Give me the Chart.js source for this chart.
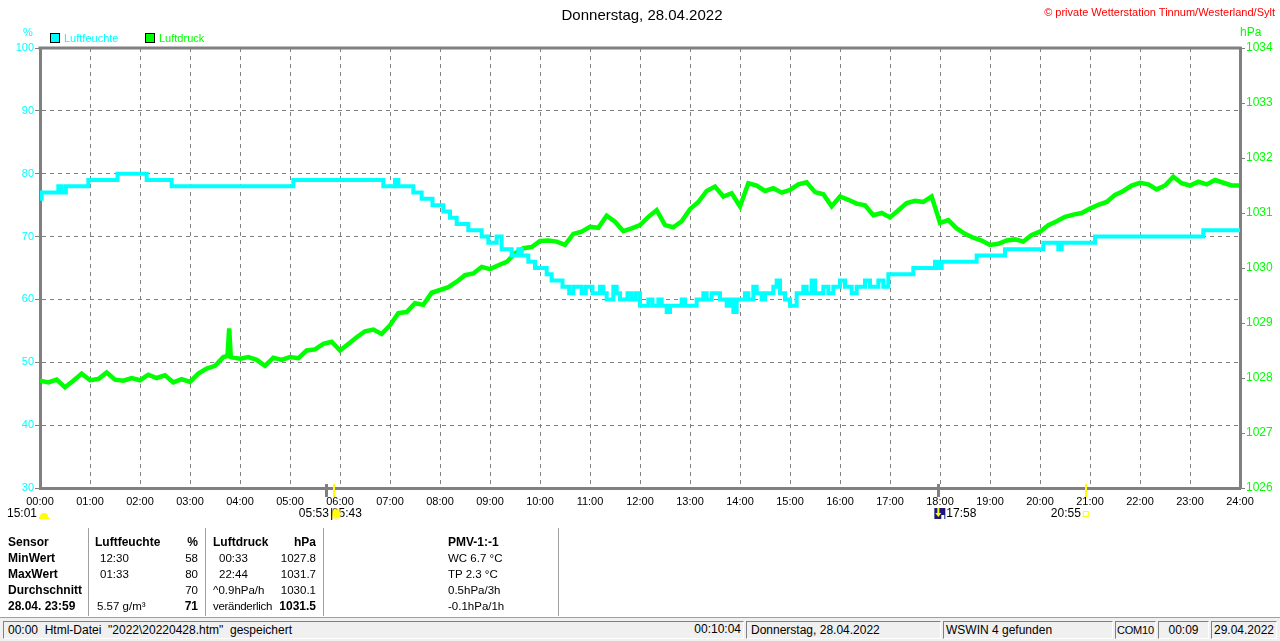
<!DOCTYPE html>
<html><head><meta charset="utf-8">
<script src="https://cdn.jsdelivr.net/npm/chart.js@4.4.1/dist/chart.umd.min.js"></script>
<style>
body{margin:0;background:#fff;font-family:"Liberation Sans",Arial,sans-serif;}
#wrap{position:relative;width:1280px;height:641px;overflow:hidden;}
canvas{position:absolute;left:0;top:0;}
.t{position:absolute;white-space:pre;line-height:14px;font-size:12px;color:#000;}
.s{font-size:11.5px;}
.b{font-weight:bold;}
.r{text-align:right;}
.sep{position:absolute;top:528px;height:88px;width:1px;background:#a0a0a0;border-right:1px solid #fff;}
.pan{position:absolute;top:621px;height:18px;border-top:1px solid #808080;border-left:1px solid #808080;border-right:1px solid #fff;border-bottom:1px solid #fff;box-sizing:border-box;font-size:12px;line-height:17px;white-space:pre;}
</style></head><body>
<div id="wrap">
<canvas id="c" width="1280" height="641"></canvas>
<div class="t" style="left:0;width:1284px;text-align:center;top:7px;font-size:15px;line-height:16px;">Donnerstag, 28.04.2022</div>
<div class="t r" style="right:5px;top:5px;font-size:11px;color:#ff0000;">© private Wetterstation Tinnum/Westerland/Sylt</div>
<div class="t" style="left:23px;top:25px;font-size:11px;color:#00ffff;">%</div>
<div style="position:absolute;left:50px;top:33px;width:8px;height:8px;background:#00ffff;border:1px solid #000;"></div>
<div class="t" style="left:64px;top:31px;font-size:11px;color:#00ffff;">Luftfeuchte</div>
<div style="position:absolute;left:145px;top:33px;width:8px;height:8px;background:#00ff00;border:1px solid #000;"></div>
<div class="t" style="left:159px;top:31px;font-size:11px;color:#00ff00;">Luftdruck</div>
<div class="t" style="left:1240px;top:25px;font-size:12px;color:#00ff00;">hPa</div>

<div class="t b" style="left:8px;top:535px;">Sensor</div>
<div class="t b" style="left:8px;top:551px;">MinWert</div>
<div class="t b" style="left:8px;top:567px;">MaxWert</div>
<div class="t b" style="left:8px;top:583px;">Durchschnitt</div>
<div class="t b" style="left:8px;top:599px;">28.04. 23:59</div>
<div class="sep" style="left:88px;"></div>
<div class="t b" style="left:95px;top:535px;">Luftfeuchte</div>
<div class="t b r" style="left:150px;width:48px;top:535px;">%</div>
<div class="t s" style="left:100px;top:551px;">12:30</div>
<div class="t s" style="left:100px;top:567px;">01:33</div>
<div class="t s" style="left:97px;top:599px;">5.57 g/m³</div>
<div class="t s r" style="left:150px;width:48px;top:551px;">58</div>
<div class="t s r" style="left:150px;width:48px;top:567px;">80</div>
<div class="t s r" style="left:150px;width:48px;top:583px;">70</div>
<div class="t r b" style="left:150px;width:48px;top:599px;">71</div>
<div class="sep" style="left:205px;"></div>
<div class="t b" style="left:213px;top:535px;">Luftdruck</div>
<div class="t b r" style="left:260px;width:56px;top:535px;">hPa</div>
<div class="t s" style="left:219px;top:551px;">00:33</div>
<div class="t s" style="left:219px;top:567px;">22:44</div>
<div class="t s" style="left:213px;top:583px;">^0.9hPa/h</div>
<div class="t s" style="left:213px;top:599px;letter-spacing:-0.3px;">veränderlich</div>
<div class="t s r" style="left:260px;width:56px;top:551px;">1027.8</div>
<div class="t s r" style="left:260px;width:56px;top:567px;">1031.7</div>
<div class="t s r" style="left:260px;width:56px;top:583px;">1030.1</div>
<div class="t r b" style="left:260px;width:56px;top:599px;">1031.5</div>
<div class="sep" style="left:323px;"></div>
<div class="t b" style="left:448px;top:535px;">PMV-1:-1</div>
<div class="t s" style="left:448px;top:551px;">WC 6.7 °C</div>
<div class="t s" style="left:448px;top:567px;">TP 2.3 °C</div>
<div class="t s" style="left:448px;top:583px;">0.5hPa/3h</div>
<div class="t s" style="left:448px;top:599px;">-0.1hPa/1h</div>
<div class="sep" style="left:558px;"></div>

<div style="position:absolute;left:0;top:617px;width:1280px;height:24px;background:#f0f0f0;border-top:1px solid #a0a0a0;"></div>
<div class="pan" style="left:3px;width:741px;padding-left:4px;">00:00  Html-Datei  "2022\20220428.htm"  gespeichert</div>
<div class="t r" style="left:600px;width:141px;top:622px;">00:10:04</div>
<div class="pan" style="left:746px;width:195px;padding-left:4px;">Donnerstag, 28.04.2022</div>
<div class="pan" style="left:943px;width:170px;padding-left:2px;">WSWIN 4 gefunden</div>
<div class="pan" style="left:1115px;width:41px;padding-left:1px;font-size:11px;letter-spacing:-0.2px;">COM10</div>
<div class="pan" style="left:1158px;width:51px;text-align:center;">00:09</div>
<div class="pan" style="left:1211px;width:66px;text-align:center;">29.04.2022</div>
</div>
<script>
// x tick labels (hours)
const xTickLabels = ['00:00','01:00','02:00','03:00','04:00','05:00','06:00','07:00','08:00','09:00','10:00','11:00','12:00',
  '13:00','14:00','15:00','16:00','17:00','18:00','19:00','20:00','21:00','22:00','23:00','24:00'];

// Luftfeuchte (%) – change points: minutes since midnight and value
const humTimes = [0,2,22,26,31,58,93,128,158,304,412,426,430,448,458,471,484,492,500,514,530,538,548,554,566,574,578,586,594,608,614,627,
  635,640,650,655,663,672,676,680,688,692,696,705,710,715,720,730,735,742,746,752,756,770,774,788,796,800,806,816,824,828,832,836,846,850,
  856,860,866,870,880,884,888,894,900,908,916,920,926,930,940,946,952,960,966,974,980,990,996,1006,1012,1018,1048,1074,1078,1082,1124,1158,
  1204,1222,1226,1266,1396,1440];
const humValues = [76,77,78,77,78,79,80,79,78,79,78,79,78,77,76,75,74,73,72,71,70,69,70,68,67,68,67,66,65,64,63,62,
  61,62,61,62,61,62,61,60,62,61,60,61,60,61,59,60,59,60,59,58,59,60,59,60,61,60,61,60,59,60,58,60,61,60,
  62,61,60,61,62,63,61,60,59,61,62,61,63,61,62,61,62,63,62,61,62,63,62,63,62,64,65,66,65,66,67,68,
  69,68,69,70,71,71];

// Luftdruck (hPa) – minutes since midnight and value
const pressTimes = [0,10,20,30,40,50,60,70,80,90,100,110,120,130,140,150,160,170,180,190,200,210,220,225,227,229,240,250,260,270,
  280,290,300,310,320,330,340,350,360,370,380,390,400,410,420,430,440,450,460,470,480,490,500,510,520,530,540,550,560,570,
  580,590,600,610,620,630,640,650,660,670,680,690,700,710,720,730,740,750,760,770,780,790,800,810,820,830,840,850,860,870,
  880,890,900,910,920,930,940,950,960,970,980,990,1000,1010,1020,1030,1040,1050,1060,1070,1080,1090,1100,1110,1120,1130,
  1140,1150,1160,1170,1180,1190,1200,1210,1220,1230,1240,1250,1260,1270,1280,1290,1300,1310,1320,1330,1340,1350,1360,1370,
  1380,1390,1400,1410,1420,1430,1439];
const pressValues = [1027.95,1027.92,1027.97,1027.83,1027.95,1028.08,1027.96,1027.98,1028.1,1027.97,1027.95,1028.0,1027.96,1028.06,1028.0,1028.05,1027.92,1027.98,1027.93,1028.08,1028.17,1028.22,1028.38,1028.4,1028.9,1028.38,1028.35,1028.38,1028.33,1028.22,
  1028.37,1028.33,1028.38,1028.36,1028.5,1028.52,1028.62,1028.66,1028.5,1028.62,1028.74,1028.85,1028.88,1028.8,1028.96,1029.18,1029.2,1029.36,1029.33,1029.55,1029.6,1029.65,1029.75,1029.87,1029.9,1030.02,1029.98,1030.05,1030.11,1030.27,
  1030.36,1030.38,1030.49,1030.5,1030.48,1030.42,1030.62,1030.66,1030.75,1030.73,1030.95,1030.84,1030.67,1030.72,1030.78,1030.93,1031.05,1030.78,1030.74,1030.85,1031.07,1031.2,1031.4,1031.48,1031.3,1031.36,1031.12,1031.54,1031.5,1031.4,
  1031.45,1031.37,1031.42,1031.52,1031.56,1031.38,1031.34,1031.12,1031.3,1031.24,1031.17,1031.14,1030.96,1031.0,1030.92,1031.05,1031.18,1031.22,1031.2,1031.3,1030.82,1030.87,1030.72,1030.62,1030.55,1030.5,
  1030.42,1030.44,1030.5,1030.52,1030.48,1030.6,1030.66,1030.78,1030.85,1030.93,1030.97,1031.0,1031.08,1031.15,1031.2,1031.33,1031.4,1031.5,1031.55,1031.52,1031.43,1031.5,1031.66,1031.54,
  1031.5,1031.57,1031.52,1031.6,1031.55,1031.5,1031.5];

// sun / moon events below the time axis (minutes since midnight)
const eventTimes = [343, 353, 1078, 1255];
const eventColors = ['#808080', '#ffff00', '#808080', '#ffff00'];

const humData = humTimes.map((t, i) => ({x: t, y: humValues[i]}));
const pressData = pressTimes.map((t, i) => ({x: t, y: pressValues[i]}));

const overlay = {
  id: 'overlay',
  afterDraw(chart) {
    const ctx = chart.ctx, a = chart.chartArea, xs = chart.scales.x;
    ctx.save();
    // top frame line
    ctx.strokeStyle = '#808080'; ctx.lineWidth = 3;
    ctx.beginPath(); ctx.moveTo(a.left - 1.5, a.top); ctx.lineTo(a.right + 1.5, a.top); ctx.stroke();
    // event ticks
    eventTimes.forEach((t, i) => {
      const px = Math.round(xs.getPixelForValue(t));
      ctx.fillStyle = eventColors[i];
      const w = eventColors[i] === '#808080' ? 3 : 2;
      ctx.fillRect(px - 1, a.bottom - 4, w, 13);
    });
    // labels
    ctx.font = '12px "Liberation Sans", Arial, sans-serif';
    ctx.fillStyle = '#000'; ctx.textBaseline = 'middle';
    const yl = a.bottom + 26;
    ctx.textAlign = 'right';
    ctx.fillText('15:01', xs.getPixelForValue(0) - 3, yl);
    ctx.fillText('05:53', xs.getPixelForValue(eventTimes[0]) + 3, yl);
    ctx.fillText('20:55', xs.getPixelForValue(eventTimes[3]) - 5, yl);
    ctx.textAlign = 'left';
    ctx.fillText('05:43', xs.getPixelForValue(eventTimes[0]) + 6, yl);
    ctx.fillText('17:58', xs.getPixelForValue(eventTimes[2]) + 8, yl);
    // sun icon at day start
    const s0 = xs.getPixelForValue(0) + 4;
    ctx.fillStyle = '#ffff00';
    ctx.beginPath(); ctx.arc(s0, yl + 3, 4, Math.PI, 0); ctx.fill();
    ctx.fillRect(s0 - 5, yl + 3, 10, 2);
    // sunrise icon
    const s1 = xs.getPixelForValue(eventTimes[1]) + 2;
    ctx.fillStyle = 'rgba(255,230,120,0.6)';
    ctx.beginPath(); ctx.arc(s1, yl, 6, 0, Math.PI * 2); ctx.fill();
    ctx.fillStyle = '#ffff00';
    ctx.beginPath(); ctx.arc(s1, yl, 4, 0, Math.PI * 2); ctx.fill();
    ctx.fillStyle = '#000'; ctx.fillRect(s1 - 5, yl - 6, 1, 12);
    // moon icon
    const m1 = xs.getPixelForValue(eventTimes[2]);
    ctx.fillStyle = '#1a1a80'; ctx.fillRect(m1 - 4, yl - 6, 11, 11);
    ctx.fillStyle = '#ffff00'; ctx.fillRect(m1 - 1, yl - 6, 2, 6);
    ctx.beginPath(); ctx.moveTo(m1 - 3, yl - 1); ctx.lineTo(m1 + 3, yl - 1); ctx.lineTo(m1, yl + 3); ctx.fill();
    ctx.fillStyle = '#fff'; ctx.fillRect(m1 + 3, yl + 1, 3, 4);
    // sunset icon
    const s3 = xs.getPixelForValue(eventTimes[3]);
    ctx.strokeStyle = '#ffff00'; ctx.lineWidth = 1;
    ctx.strokeRect(s3 - 2.5, yl - 2.5, 5, 5);
    ctx.restore();
  }
};

new Chart(document.getElementById('c'), {
  type: 'line',
  data: {
    datasets: [
      {label: 'Luftfeuchte', data: humData, yAxisID: 'y', borderColor: '#00ffff', backgroundColor: '#00ffff',
       borderWidth: 4, pointRadius: 0, stepped: true, fill: false},
      {label: 'Luftdruck', data: pressData, yAxisID: 'y1', borderColor: '#00ff00', backgroundColor: '#00ff00',
       borderWidth: 4.5, pointRadius: 0, tension: 0, fill: false}
    ]
  },
  options: {
    responsive: false, animation: false,
    layout: {padding: {top: 48, left: 0, right: 0, bottom: 0}},
    plugins: {legend: {display: false}, title: {display: false}, tooltip: {enabled: false}},
    scales: {
      x: {
        type: 'linear', min: 0, max: 1440,
        afterFit: s => { s.height = 153; },
        afterBuildTicks: s => { s.ticks = xTickLabels.map((l, i) => ({value: i * 60})); },
        ticks: {callback: (v) => xTickLabels[Math.round(v / 60)], autoSkip: false, maxRotation: 0, minRotation: 0,
          color: '#000', font: {family: '"Liberation Sans", Arial, sans-serif', size: 11}, padding: 7},
        grid: {color: '#808080', lineWidth: 1, drawTicks: false},
        border: {color: '#808080', width: 3, dash: [4, 4]}
      },
      y: {
        type: 'linear', position: 'left', min: 30, max: 100,
        afterFit: s => { s.width = 40; },
        ticks: {stepSize: 10, color: '#00ffff', font: {family: '"Liberation Sans", Arial, sans-serif', size: 11}, padding: 1,
          callback: v => String(v)},
        grid: {color: '#808080', lineWidth: 1, tickLength: 5, tickBorderDash: [], tickColor: '#808080'},
        border: {color: '#808080', width: 3, dash: [4, 4]}
      },
      y1: {
        type: 'linear', position: 'right', min: 1026, max: 1034,
        afterFit: s => { s.width = 40; },
        ticks: {stepSize: 1, color: '#00ff00', font: {family: '"Liberation Sans", Arial, sans-serif', size: 12}, padding: 1,
          callback: v => String(v)},
        grid: {drawOnChartArea: false, color: '#808080', tickLength: 5, tickColor: '#808080'},
        border: {color: '#808080', width: 3}
      }
    }
  },
  plugins: [overlay]
});
</script>
</body></html>
